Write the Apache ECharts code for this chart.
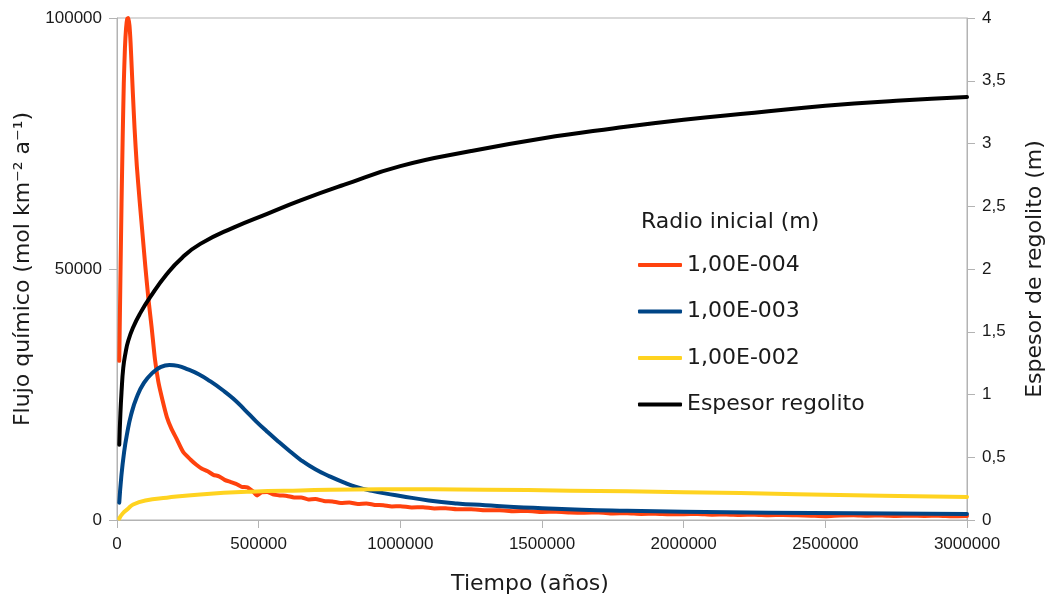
<!DOCTYPE html>
<html>
<head>
<meta charset="utf-8">
<script src="https://cdn.jsdelivr.net/npm/echarts@6/dist/echarts.min.js"></script>
<style>html,body{margin:0;padding:0;background:#fff}#c{width:1047px;height:600px}</style>
</head>
<body>
<div id="c"></div>
<script>
// ---- data ----
const seriesNames = ['1,00E-004', '1,00E-003', '1,00E-002', 'Espesor regolito'];
const legendTitle = 'Radio inicial (m)';
const xTicks = [0, 500000, 1000000, 1500000, 2000000, 2500000, 3000000];

const redT = [8000, 12000, 16000, 20000, 24000, 28000, 32000, 36000, 40000, 44000, 48000, 52000, 56000, 62000, 70000, 80000, 90000, 100000, 111000, 122000, 134000, 146000, 160000, 176000, 192000, 210000, 234000, 260000, 280000, 300000, 320000, 340000, 360000, 380000, 400000, 420000, 440000, 460000, 480000, 495000, 510000, 530000, 550000, 575000, 600000, 625000, 650000, 675000, 700000, 730000, 760000, 790000, 820000, 850000, 880000, 910000, 940000, 970000, 1000000, 1040000, 1080000, 1120000, 1160000, 1200000, 1250000, 1300000, 1350000, 1400000, 1450000, 1500000, 1550000, 1600000, 1650000, 1700000, 1750000, 1800000, 1850000, 1900000, 1950000, 2000000, 2050000, 2100000, 2150000, 2200000, 2250000, 2300000, 2350000, 2400000, 2450000, 2500000, 2550000, 2600000, 2650000, 2700000, 2750000, 2800000, 2850000, 2900000, 2950000, 3000000];
const redV = [31700, 48000, 63000, 76000, 87000, 94000, 98000, 99800, 100000, 98500, 95000, 90000, 85000, 78000, 70500, 63500, 57000, 50500, 44000, 38500, 32000, 27500, 24000, 20500, 18200, 16200, 13500, 12000, 11000, 10200, 9700, 9000, 8700, 8000, 7600, 7200, 6600, 6500, 5700, 4900, 5500, 5600, 5100, 4900, 4800, 4500, 4500, 4100, 4200, 3800, 3700, 3400, 3500, 3200, 3300, 3000, 2950, 2700, 2750, 2500, 2550, 2300, 2350, 2150, 2150, 1950, 1950, 1750, 1800, 1600, 1650, 1500, 1450, 1500, 1300, 1350, 1200, 1250, 1150, 1150, 1200, 1050, 1100, 1000, 1050, 950, 1000, 950, 850, 750, 900, 950, 850, 900, 800, 850, 800, 850, 750, 800];

const blueT = [8000, 15000, 25000, 35000, 50000, 70000, 95000, 125000, 155000, 185000, 215000, 250000, 290000, 330000, 370000, 410000, 450000, 490000, 530000, 570000, 610000, 650000, 700000, 750000, 800000, 850000, 900000, 950000, 1000000, 1100000, 1200000, 1300000, 1400000, 1500000, 1640000, 1800000, 2000000, 2300000, 2600000, 3000000];
const blueV = [3450, 8500, 13500, 17000, 21000, 24500, 27300, 29300, 30500, 30900, 30700, 30000, 29000, 27600, 26000, 24200, 22000, 19700, 17600, 15600, 13700, 11900, 10100, 8700, 7500, 6500, 5800, 5250, 4800, 3900, 3300, 2950, 2600, 2350, 2050, 1850, 1650, 1450, 1330, 1200];

const yellowT = [8000, 20000, 40000, 57000, 100000, 176000, 294000, 470000, 648000, 930000, 1300000, 1600000, 2000000, 2400000, 2700000, 3000000];
const yellowV = [300, 1300, 2300, 3100, 3900, 4450, 5100, 5650, 5900, 6150, 6050, 5850, 5550, 5150, 4850, 4600];

const blackT = [8000, 12000, 16000, 22000, 30000, 40000, 58000, 80000, 117000, 176000, 230000, 294000, 411000, 530000, 648000, 800000, 1000000, 1250000, 1500000, 1750000, 2000000, 2250000, 2500000, 2750000, 3000000];
const blackV = [0.60, 0.85, 1.02, 1.21, 1.33, 1.43, 1.54, 1.64, 1.775, 1.96, 2.09, 2.20, 2.33, 2.44, 2.547, 2.67, 2.82, 2.94, 3.04, 3.12, 3.19, 3.245, 3.30, 3.34, 3.37];

const colors = ['#ff420e', '#004586', '#ffd320', '#000000'];

const pairs = (t, v) => t.map((x, i) => [x, v[i]]);

const chart = echarts.init(document.getElementById('c'), null, {renderer: 'canvas'});
const tickFont = {fontFamily: 'Liberation Sans', fontSize: 17, color: '#1a1a1a'};
const nameFont = {fontFamily: 'DejaVu Sans', fontSize: 22, color: '#1a1a1a'};
const axisLineStyle = {lineStyle: {color: '#b3b3b3', width: 1}};

chart.setOption({
  animation: false,
  backgroundColor: '#fff',
  color: colors,
  title: {
    text: legendTitle,
    left: 641, top: 210, padding: 0,
    textStyle: {fontFamily: 'DejaVu Sans', fontSize: 22, fontWeight: 'normal', color: '#1a1a1a', lineHeight: 24}
  },
  legend: {
    data: seriesNames,
    orient: 'vertical',
    left: 638, top: 252, padding: 0,
    icon: 'roundRect',
    itemWidth: 44, itemHeight: 4, itemGap: 20.5,
    textStyle: {fontFamily: 'DejaVu Sans', fontSize: 22, color: '#1a1a1a', lineHeight: 26}
  },
  grid: {left: 117, right: 80, top: 18, bottom: 80, show: true, borderColor: '#b3b3b3', borderWidth: 1, outerBoundsMode: 'none', containLabel: false},
  xAxis: {
    type: 'value', min: 0, max: 3000000, interval: 500000,
    name: 'Tiempo (años)', nameLocation: 'middle', nameGap: 53,
    nameTextStyle: Object.assign({padding: [0, 24, 0, 0]}, nameFont),
    axisLine: axisLineStyle,
    axisTick: {show: true, inside: false, length: 8, lineStyle: {color: '#b3b3b3'}},
    axisLabel: Object.assign({margin: 16, formatter: v => String(v)}, tickFont),
    splitLine: {show: false}
  },
  yAxis: [{
    type: 'value', min: 0, max: 100000, interval: 50000,
    name: 'Flujo químico (mol km⁻² a⁻¹)', nameLocation: 'middle', nameGap: 81, nameTextStyle: nameFont,
    axisLine: Object.assign({show: true}, axisLineStyle),
    axisTick: {show: true, length: 8, lineStyle: {color: '#b3b3b3'}},
    axisLabel: Object.assign({margin: 15, formatter: v => String(v)}, tickFont),
    splitLine: {show: false}
  }, {
    type: 'value', min: 0, max: 4, interval: 0.5, position: 'right',
    name: 'Espesor de regolito (m)', nameLocation: 'middle', nameGap: 57, nameTextStyle: nameFont,
    axisLine: Object.assign({show: true}, axisLineStyle),
    axisTick: {show: true, length: 8, lineStyle: {color: '#b3b3b3'}},
    axisLabel: Object.assign({margin: 15, formatter: v => String(v).replace('.', ',')}, tickFont),
    splitLine: {show: false}
  }],
  series: [
    {name: seriesNames[0], type: 'line', yAxisIndex: 0, data: pairs(redT, redV), showSymbol: false, smooth: 0.2, lineStyle: {width: 4, cap: 'round', join: 'round'}},
    {name: seriesNames[1], type: 'line', yAxisIndex: 0, data: pairs(blueT, blueV), showSymbol: false, smooth: 0.5, lineStyle: {width: 4, cap: 'round', join: 'round'}},
    {name: seriesNames[2], type: 'line', yAxisIndex: 0, data: pairs(yellowT, yellowV), showSymbol: false, smooth: 0.5, lineStyle: {width: 4, cap: 'round', join: 'round'}},
    {name: seriesNames[3], type: 'line', yAxisIndex: 1, data: pairs(blackT, blackV), showSymbol: false, smooth: 0.5, lineStyle: {width: 4, cap: 'round', join: 'round'}}
  ]
});
</script>
</body>
</html>
